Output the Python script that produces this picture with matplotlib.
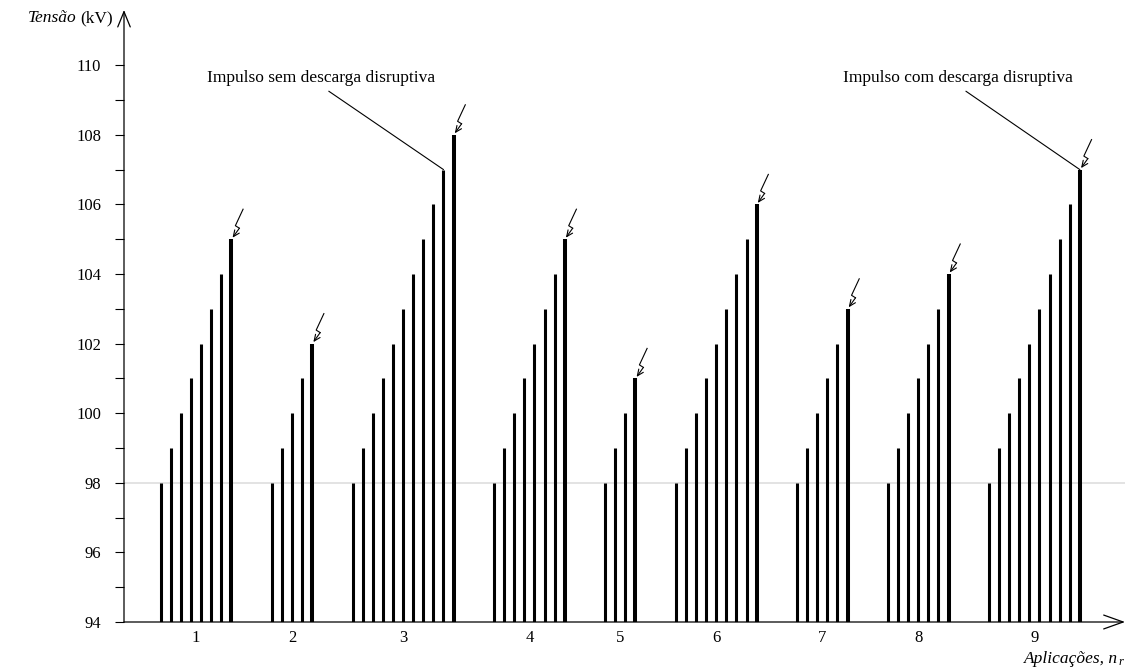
import matplotlib.pyplot as plt
import matplotlib.transforms as mtransforms

plt.rcParams["font.family"] = ["Liberation Serif", "DejaVu Serif"]

# tensões aplicadas em cada série de impulsos (kV)
serie_1 = [98, 99, 100, 101, 102, 103, 104, 105]
serie_2 = [98, 99, 100, 101, 102]
serie_3 = [98, 99, 100, 101, 102, 103, 104, 105, 106, 107, 108]
serie_4 = [98, 99, 100, 101, 102, 103, 104, 105]
serie_5 = [98, 99, 100, 101]
serie_6 = [98, 99, 100, 101, 102, 103, 104, 105, 106]
serie_7 = [98, 99, 100, 101, 102, 103]
serie_8 = [98, 99, 100, 101, 102, 103, 104]
serie_9 = [98, 99, 100, 101, 102, 103, 104, 105, 106, 107]
series = [serie_1, serie_2, serie_3, serie_4, serie_5,
          serie_6, serie_7, serie_8, serie_9]
x_labels = ["1", "2", "3", "4", "5", "6", "7", "8", "9"]
y_major = [94, 96, 98, 100, 102, 104, 106, 108, 110]
y_minor = [95, 97, 99, 101, 103, 105, 107, 109]
nivel_ref = 98

W, H = 1136, 668
fig = plt.figure(figsize=(W / 100, H / 100), dpi=100)
ax = fig.add_axes([124 / W, 46 / H, (1125 - 124) / W, (622 - 10) / H])

# positions: one slot per impulse, three empty slots between series
GAP = 3
xs, centers = [], []
pos = 0
for s in series:
    p = list(range(pos, pos + len(s)))
    xs.append(p)
    centers.append((p[0] + p[-1]) / 2)
    pos += len(s) + GAP


def draw_bolt(x, y):
    trans = fig.dpi_scale_trans + mtransforms.ScaledTranslation(x, y, ax.transData)
    ax.plot([0.117, 0.04, 0.08], [0.30, 0.135, 0.11], transform=trans,
            color="black", lw=0.8, clip_on=False)
    ax.annotate("", xy=(0.012, 0.015), xycoords=trans,
                xytext=(0.08, 0.11), textcoords=trans,
                arrowprops=dict(arrowstyle="->,head_length=4.5,head_width=2",
                                mutation_scale=1, lw=0.8, color="black",
                                shrinkA=0, shrinkB=0))


ax.axhline(nivel_ref, color="#dedede", lw=1.2, zorder=0)

for p, s in zip(xs, series):
    ax.vlines(p[:-1], 94, s[:-1], color="black", lw=2.2)
    ax.vlines(p[-1], 94, s[-1], color="black", lw=2.9)
    draw_bolt(p[-1], s[-1])

ax.set_xlim(-3.63, 95.47)
ax.set_ylim(94, 94 + (622 - 10) / 34.8)

for sp in ax.spines.values():
    sp.set_visible(False)

arrow = dict(arrowstyle="->,head_length=14,head_width=5", mutation_scale=1,
             lw=0.9, color="black", shrinkA=0, shrinkB=0)
ax.annotate("", xy=(1, 0), xytext=(0, 0), xycoords="axes fraction", arrowprops=arrow)
ax.annotate("", xy=(0, 1), xytext=(0, 0), xycoords="axes fraction",
            arrowprops=dict(arrow, arrowstyle="->,head_length=11,head_width=4.5"))

ax.set_yticks(y_major)
ax.set_yticks(y_minor, minor=True)
ax.tick_params(axis="y", which="both", direction="out", length=6.5, width=0.8,
               pad=10, labelsize=12)
ax.set_xticks(centers)
ax.set_xticklabels(x_labels)
ax.tick_params(axis="x", length=0, pad=6, labelsize=12)

# annotations
ax.annotate("Impulso sem descarga disruptiva", xy=(xs[2][-2], serie_3[-2]),
            xytext=(15.9, 109.63), ha="center", va="center", fontsize=12.5,
            arrowprops=dict(arrowstyle="-", lw=0.8, color="black",
                            relpos=(0.5, 0), shrinkA=3, shrinkB=0))
ax.annotate("Impulso com descarga disruptiva", xy=(xs[8][-1], serie_9[-1]),
            xytext=(78.98, 109.63), ha="center", va="center", fontsize=12.5,
            arrowprops=dict(arrowstyle="-", lw=0.8, color="black",
                            relpos=(0.5, 0), shrinkA=3, shrinkB=0))

# axis titles
kv = fig.text(113 / W, (H - 22) / H, "(kV)", ha="right", va="baseline", fontsize=12.5)
ax.annotate("Tensão", xy=(0, 0), xycoords=kv, xytext=(-3, 0),
            textcoords="offset points", ha="right", va="bottom",
            fontsize=12.5, style="italic")
apl = fig.text(1118 / W, 5 / H, "Aplicações, n", ha="right", va="baseline",
               fontsize=12.5, style="italic")
ax.annotate("r", xy=(1, 0), xycoords=apl, xytext=(0.5, -1),
            textcoords="offset points", ha="left", va="bottom",
            fontsize=9, style="italic")

fig.savefig("out.png", dpi=100)
